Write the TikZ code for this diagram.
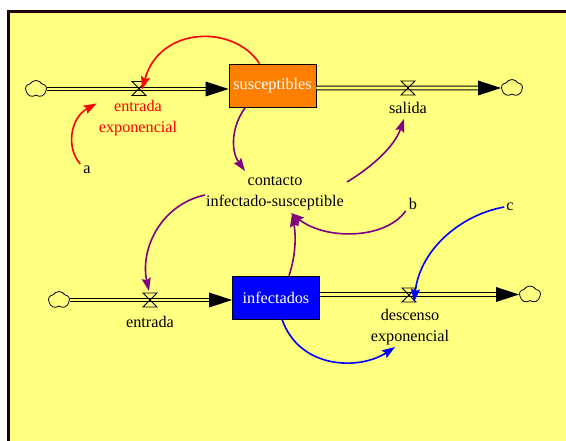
\documentclass[tikz,border=0pt]{standalone}
\usepackage{fontspec}
\setmainfont{Liberation Serif}
\newfontfamily\vfont{Liberation Serif}
\usetikzlibrary{arrows.meta,shapes.symbols}
\definecolor{bg}{RGB}{255,255,128}
\definecolor{framec}{RGB}{30,0,0}
\definecolor{vpurple}{RGB}{128,0,128}
\definecolor{vorange}{RGB}{255,128,0}
\definecolor{vred}{RGB}{255,0,0}
\definecolor{vblue}{RGB}{0,0,255}
\begin{document}
\begin{tikzpicture}[x=1pt,y=-1pt,
  txt/.style={font=\vfont\fontsize{16.2}{21}\selectfont, inner sep=1pt, align=center},
  stock/.style={draw=black, line width=0.8pt, minimum width=87pt, minimum height=43pt,
    text=white, font=\vfont\fontsize{16.2}{19}\selectfont, inner sep=0pt},
  src/.style={cloud, cloud puffs=5, cloud puff arc=120, draw, line width=0.8pt,
    minimum width=21pt, minimum height=17pt, inner sep=0pt, aspect=1.2},
  pipe/.style={draw=black, double=bg, line width=1pt, double distance=2.8pt, shorten >=21pt},
  link/.style={line width=1.6pt, -{Stealth[length=13pt,width=9pt,inset=2pt]}},
  valve/.pic={\draw[line width=0.8pt] (-7,-7) -- (7,-7) -- (-7,7) -- (7,7) -- cycle;}
]
\path[use as bounding box] (0,0) rectangle (566,441);
\fill[white] (0,0) rectangle (566,441);
\fill[bg] (8.5,12) rectangle (566,441);
\draw[framec, line width=3pt] (8.5,441) -- (8.5,12) -- (567,12);

% clouds and stocks
\node[src] (c1) at (36,89) {};
\node[src] (c2) at (512,88) {};
\node[src] (c3) at (59,300) {};
\node[src] (c4) at (530,294.5) {};
\node[stock, fill=vorange] (S) at (272.5,85.5) {susceptibles};
\node[stock, fill=vblue] (I) at (276,297.5) {infectados};

% valves
\coordinate (vA) at (139,88.5);
\coordinate (vS) at (408,88);
\coordinate (vE) at (150,300);
\coordinate (vD) at (409,295);

% pipes
\draw[pipe] (c1.east) -- (c1.east -| S.west);
\fill (c1.east -| S.west) -- ++(-23,-7.5) -- ++(0,15) -- cycle;
\draw[pipe] (S.east |- c2) -- (c2.west);
\fill (c2.west) -- ++(-23,-7.5) -- ++(0,15) -- cycle;
\draw[pipe] (c3.east) -- (c3.east -| I.west);
\fill (c3.east -| I.west) -- ++(-23,-7.5) -- ++(0,15) -- cycle;
\draw[pipe] (I.east |- c4) -- (c4.west);
\fill (c4.west) -- ++(-23,-7.5) -- ++(0,15) -- cycle;

\pic at (vA) {valve};
\pic at (vS) {valve};
\pic at (vE) {valve};
\pic at (vD) {valve};

% labels
\node[txt, text=vred] (lA) at (138,118.5) {entrada\\exponencial};
\node[txt] (lS) at (408,108) {salida};
\node[txt] (a) at (87,170) {a};
\node[txt] (K) at (275,193) {contacto\\infectado-susceptible};
\node[txt] (b) at (413,204) {b};
\node[txt] (c) at (510,207) {c};
\node[txt] (lE) at (150,322) {entrada};
\node[txt] (D) at (410,327) {descenso\\exponencial};

% links
\draw[link, vred] ([xshift=-13pt]S.north) .. controls (235,25) and (160,25) .. ([shift={(3,1)}]vA);
\draw[link, vred] ([shift={(-2,-1)}]a.north west) .. controls (66,148) and (70,118) .. ([shift={(-1,4)}]lA.north west);
\draw[link, vpurple] ([xshift=-27pt]S.south) .. controls (232,125) and (230,150) .. ([shift={(-30,-4)}]K.north);
\draw[link, vpurple] ([shift={(2,-11)}]K.east) .. controls (375,165) and (395,145) .. ([shift={(-4,4)}]lS.south);
\draw[link, vpurple] ([xshift=-2pt]b.south west) .. controls (385,240) and (325,240) .. ([shift={(16,2)}]K.south);
\draw[link, vpurple] ([yshift=-2pt]K.west) .. controls (160,205) and (140,250) .. ([shift={(-1,-9)}]vE);
\draw[link, vpurple] ([xshift=13pt]I.north) .. controls (296,255) and (296,235) .. ([shift={(17,3)}]K.south);
\draw[link, vblue] ([xshift=-1pt]c.west) .. controls (460,215) and (420,250) .. ([shift={(5,7)}]vD);
\draw[link, vblue] ([xshift=6pt]I.south) .. controls (300,370) and (360,370) .. ([shift={(-15,1)}]D.south);
\end{tikzpicture}
\end{document}
